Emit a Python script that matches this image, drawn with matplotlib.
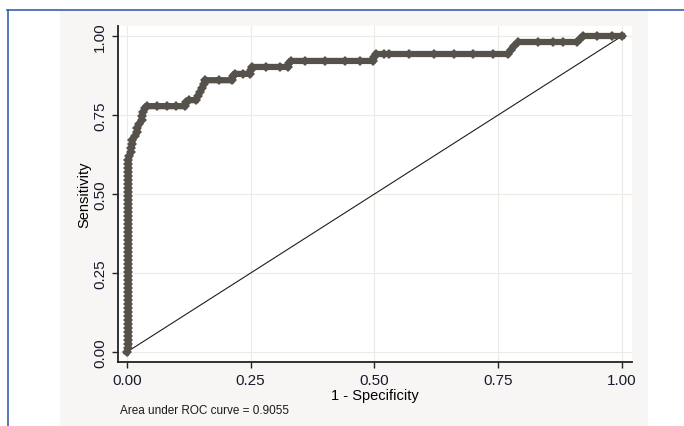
import matplotlib.pyplot as plt
from matplotlib.patches import Rectangle

# ROC curve points (1 - specificity, sensitivity)
fpr = [0.0] + [0.003] * 48 + [
    0.005, 0.008, 0.008, 0.011, 0.011, 0.016, 0.021, 0.021, 0.025, 0.030,
    0.030, 0.033, 0.036, 0.041, 0.060, 0.080, 0.100, 0.117, 0.120, 0.125,
    0.140, 0.143, 0.148, 0.152, 0.155, 0.158, 0.185, 0.212, 0.215, 0.218,
    0.235, 0.248, 0.250, 0.253, 0.280, 0.310, 0.325, 0.328, 0.331, 0.360,
    0.400, 0.440, 0.470, 0.497, 0.500, 0.503, 0.520, 0.530, 0.570, 0.620,
    0.660, 0.700, 0.740, 0.770, 0.775, 0.782, 0.790, 0.830, 0.860, 0.880,
    0.909, 0.915, 0.921, 0.950, 0.980, 1.000]
tpr = [
    0.0, 0.013, 0.025, 0.038, 0.051, 0.063, 0.076, 0.089, 0.101, 0.114,
    0.127, 0.139, 0.152, 0.165, 0.177, 0.190, 0.203, 0.215, 0.228, 0.241,
    0.253, 0.266, 0.278, 0.291, 0.304, 0.316, 0.329, 0.342, 0.354, 0.367,
    0.380, 0.392, 0.405, 0.418, 0.430, 0.443, 0.456, 0.468, 0.481, 0.494,
    0.506, 0.519, 0.532, 0.544, 0.557, 0.570, 0.582, 0.595, 0.608,
    0.620, 0.633, 0.646, 0.658, 0.671, 0.684, 0.696, 0.709, 0.722, 0.734,
    0.747, 0.759, 0.772, 0.778, 0.778, 0.778, 0.778, 0.778, 0.790, 0.797,
    0.797, 0.810, 0.823, 0.835, 0.848, 0.860, 0.860, 0.860, 0.873, 0.880,
    0.880, 0.880, 0.892, 0.902, 0.902, 0.902, 0.902, 0.914, 0.921, 0.921,
    0.921, 0.921, 0.921, 0.921, 0.933, 0.943, 0.943, 0.943, 0.943, 0.943,
    0.943, 0.943, 0.943, 0.943, 0.956, 0.968, 0.981, 0.981, 0.981, 0.981,
    0.981, 0.990, 1.000, 1.000, 1.000, 1.000]

ticks = [0.0, 0.25, 0.5, 0.75, 1.0]
tick_labels = ["0.00", "0.25", "0.50", "0.75", "1.00"]
auc_text = "Area under ROC curve = 0.9055"

W, H = 684, 427
plt.rcParams["font.family"] = ["Liberation Sans", "DejaVu Sans"]

fig = plt.figure(figsize=(W / 100, H / 100), dpi=100)
fig.patch.set_facecolor("white")

# grey panel and blue frame lines, drawn behind the plot
fig.patches.append(Rectangle((60 / W, 0), 588 / W, 1 - 12 / H,
                             transform=fig.transFigure, facecolor="#f7f6f4",
                             edgecolor="none", zorder=-10))
fig.lines.append(plt.Line2D([7 / W, 1], [1 - 11 / H, 1 - 11 / H],
                            transform=fig.transFigure, color="#3b60b0", lw=1.2,
                            zorder=-5))
fig.lines.append(plt.Line2D([8 / W, 8 / W], [0, 1 - 11 / H],
                            transform=fig.transFigure, color="#3b60b0", lw=1.2,
                            zorder=-5))

ax = fig.add_axes([118 / W, 1 - 363 / H, 514 / W, 336 / H])
ax.set_facecolor("white")

ax.plot([0, 1], [0, 1], color="#1e1e1e", lw=0.8, zorder=2)
ax.plot(fpr, tpr, color="#57514c", lw=4.5, marker="D", ms=5,
        markeredgewidth=0, zorder=3, solid_joinstyle="miter")

ax.set_xlim(-0.018, 1.0202)
ax.set_ylim(-0.0316, 1.0316)
ax.set_xticks(ticks)
ax.set_xticklabels(tick_labels, fontsize=11, color="#1a1a2e")
ax.set_yticks(ticks)
ax.set_yticklabels(tick_labels, fontsize=11, color="#1a1a2e", rotation=90,
                   va="center")
ax.tick_params(direction="out", length=4, width=1, color="#222222", pad=4)
ax.grid(True, color="#eeebe6", lw=0.8)
ax.set_axisbelow(True)

for s in ["top", "right"]:
    ax.spines[s].set_visible(False)
for s in ["left", "bottom"]:
    ax.spines[s].set_color("#222222")
    ax.spines[s].set_linewidth(1.3)

ax.set_xlabel("1 - Specificity", fontsize=10.5, labelpad=0.5)
ax.set_ylabel("Sensitivity", fontsize=10.5, labelpad=1)

fig.text(120 / W, 1 - 411 / H, auc_text, fontsize=8.5, va="center",
         ha="left", color="#1a1a1a")

fig.savefig("out.png", dpi=100)
